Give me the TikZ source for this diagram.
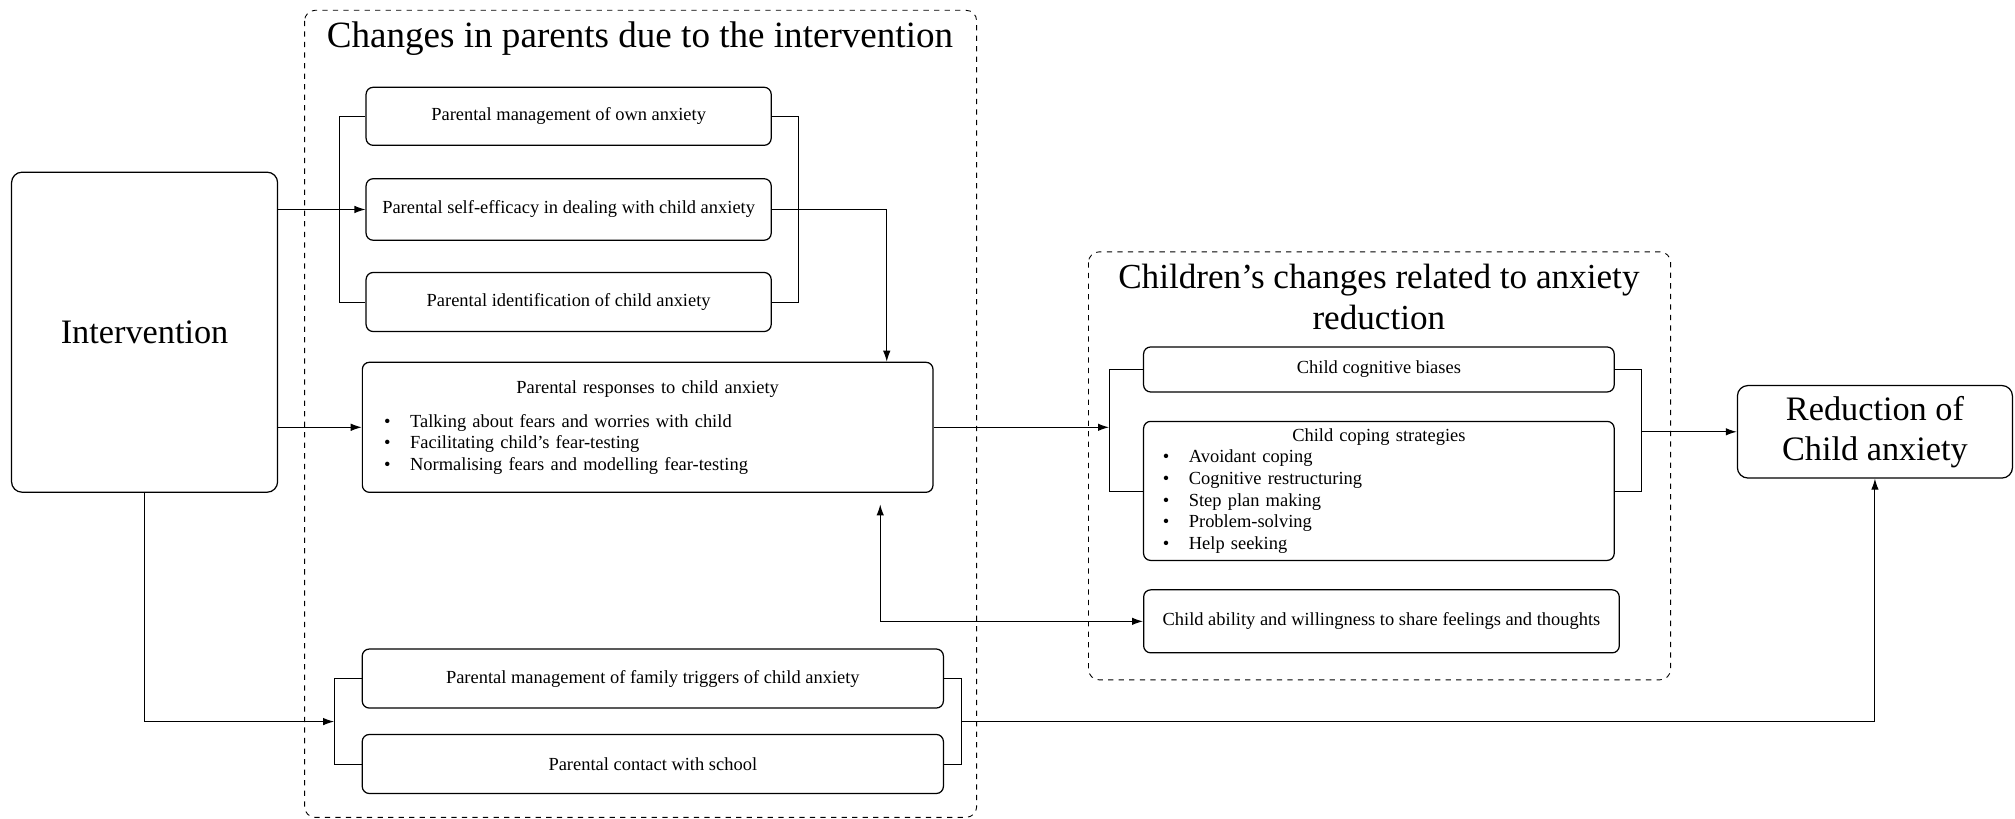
\documentclass[tikz,border=0pt]{standalone}
\usepackage{fontspec}
\setmainfont{Liberation Serif}
\usetikzlibrary{positioning,calc,arrows,arrows.meta}
\tikzstyle{edge} = [-{Latex[length=2.2mm,width=1.5mm]}, line width=0.6pt]
\tikzstyle{box} = [draw, rounded corners=4pt, line width=0.7pt, align=center, font=\fontsize{10.5}{12.3}\selectfont]
\tikzstyle{bigbox} = [draw, rounded corners=6pt, line width=0.7pt, align=center, font=\fontsize{19.5}{23}\selectfont]
\tikzstyle{group} = [draw, dashed, rounded corners=6pt, line width=0.5pt]
\tikzstyle{grouptitle} = [align=center, font=\fontsize{20}{23}\selectfont]
\newcommand{\bul}[1]{\noindent\hspace*{0.18cm}\makebox[0.52cm][l]{\textbullet}#1\par}

\begin{document}
\begin{tikzpicture}[x=0.0257cm, y=-0.0257cm]
\tikzstyle{every node}=[inner sep=2pt]
	\useasboundingbox (0,0) rectangle (1568,637);
	\draw[group] (237,8) rectangle (760,636);
	\draw[group] (847,196) rectangle (1300,529);
	\node[grouptitle, font=\fontsize{21.1}{25}\selectfont] (ptitle) at (498,30) {Changes in parents due to the intervention};
	\node[grouptitle] (ctitle) at (1073,231) {Children’s changes related to anxiety\\reduction};

	\node[bigbox, minimum width=5.32cm, minimum height=6.40cm] (interv) at (112.5,258.5) {Intervention};
	\node[box, minimum width=8.10cm, minimum height=1.16cm] (ownanx) at (442.5,90.5) {Parental management of own anxiety};
	\node[box, minimum width=8.10cm, minimum height=1.23cm] (selfeff) at (442.5,163) {Parental self-efficacy in dealing with child anxiety};
	\node[box, minimum width=8.10cm, minimum height=1.18cm] (identify) at (442.5,235) {Parental identification of child anxiety};
	\node[box, align=left, minimum width=11.41cm, minimum height=2.60cm, text width=10.9cm] (resp) at (504,332.5) {%
		\centering Parental responses to child anxiety\par\vspace{7pt}\raggedright
		\bul{Talking about fears and worries with child}
		\bul{Facilitating child’s fear-testing}
		\bul{Normalising fears and modelling fear-testing}};
	\node[box, minimum width=11.62cm, minimum height=1.18cm] (famtrig) at (508,528) {Parental management of family triggers of child anxiety};
	\node[box, minimum width=11.62cm, minimum height=1.18cm] (school) at (508,594.5) {Parental contact with school};

	\node[box, minimum width=9.41cm, minimum height=0.90cm] (bias) at (1073,287.5) {Child cognitive biases};
	\node[box, align=left, minimum width=9.41cm, minimum height=2.78cm, text width=9.0cm] (coping) at (1073,382) {%
		\centering Child coping strategies\par\raggedright
		\bul{Avoidant coping}
		\bul{Cognitive restructuring}
		\bul{Step plan making}
		\bul{Problem-solving}
		\bul{Help seeking}};
	\node[box, minimum width=9.51cm, minimum height=1.26cm] (share) at (1075,483.5) {Child ability and willingness to share feelings and thoughts};
	\node[bigbox, minimum width=5.50cm, minimum height=1.85cm, font=\fontsize{19.5}{22.6}\selectfont] (reduction) at (1459,336) {Reduction of\\Child anxiety};

	\coordinate (abcl) at (264,163);
	\coordinate (abcr) at (621,163);
	\coordinate (plb) at (260,561.5);
	\coordinate (prb) at (748,561.5);
	\coordinate (cl) at (863,336);
	\coordinate (cr) at (1277,336);

	\draw (ownanx.west) -| (abcl) |- (identify.west);
	\draw (ownanx.east) -| (abcr) |- (identify.east);
	\draw (famtrig.west) -| (plb) |- (school.west);
	\draw (famtrig.east) -| (prb) |- (school.east);
	\draw (bias.west) -| (cl) |- (coping.west);
	\draw (bias.east) -| (cr) |- (coping.east);

	\draw[edge] (interv.east |- selfeff.west) to (selfeff.west);
	\draw[edge] (interv.east |- resp.west) to (resp.west);
	\draw[edge] (selfeff.east) -| ([xshift=4.78cm]resp.north);
	\draw[edge] (interv.south) |- (plb);
	\draw[edge] (resp.east) to (resp.east -| cl);
	\draw[edge] (cr |- reduction.west) to (reduction.west);
	\draw[edge] (prb) -| (reduction.south);
	\draw[edge, {Latex[length=2.2mm,width=1.5mm]}-{Latex[length=2.2mm,width=1.5mm]}, shorten <=0.23cm] ([xshift=4.65cm]resp.south) |- (share.west);
\end{tikzpicture}
\end{document}
